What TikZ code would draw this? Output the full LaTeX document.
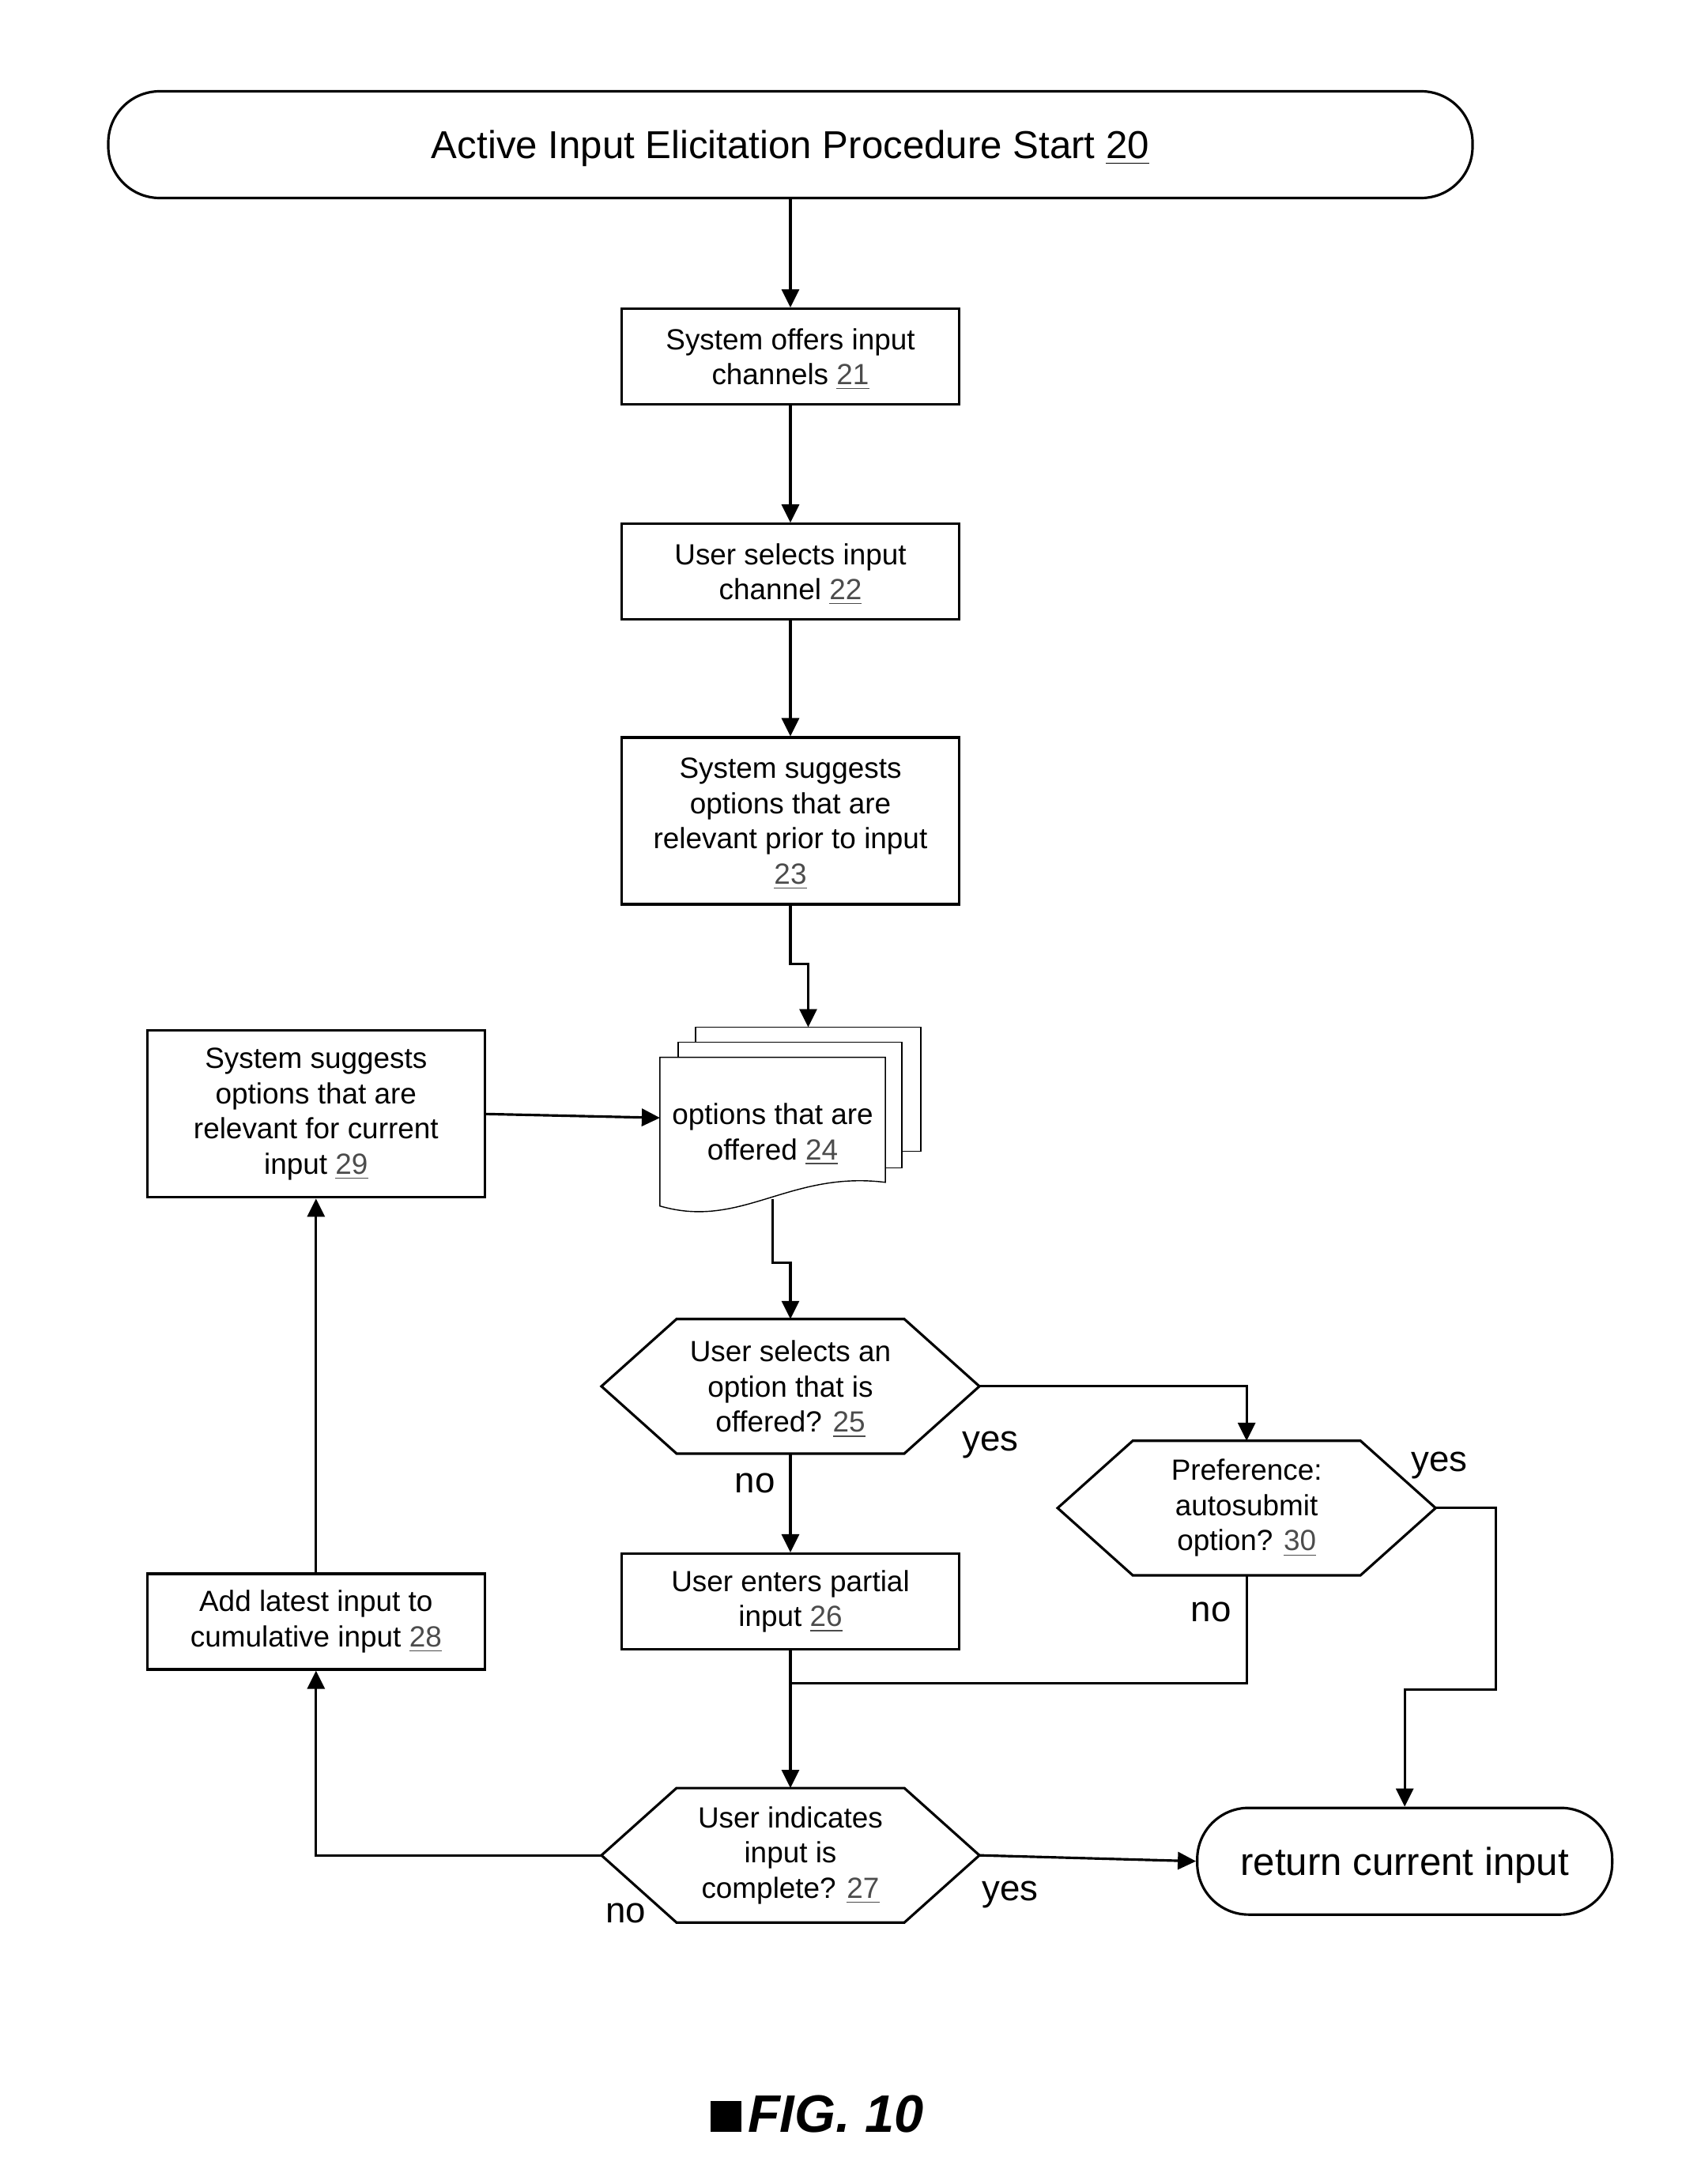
\documentclass[tikz,border=0pt]{standalone}
\usepackage{fontspec}
\setmainfont{Liberation Sans}
\usepackage{tikz}
\usepackage{xcolor}
\usetikzlibrary{positioning, arrows.meta, backgrounds}

\newcommand{\refnum}[1]{\raisebox{0pt}[\height][0pt]{\textcolor{black!70}{\underline{#1}}}}

\begin{document}
\begin{tikzpicture}[node distance=1.48cm and 2cm,
            line width=0.9pt,
            >={Triangle[length=2.3mm,width=2.2mm]},
            stepbox/.style={draw, rectangle, minimum width=4.27cm, minimum height=1.21cm, inner sep=0.1cm, align=center, font=\fontsize{10.5}{12.7}\selectfont},
            terminal/.style={draw, rectangle, rounded corners=6.5mm, minimum height=1.35cm, text depth=0pt, align=center, font=\fontsize{14}{16.8}\selectfont},
            decision/.style={rectangle, minimum width=4.75cm, minimum height=1.67cm, inner sep=0pt, align=center, font=\fontsize{10.5}{12.7}\selectfont},
            lbl/.style={inner sep=0pt, font=\fontsize{13}{15.6}\selectfont}]
    \useasboundingbox (0,0) rectangle (21.27,-27.63);

    % Nodes
    \node[terminal, minimum width=17.26cm] (start) at (10.00,-1.83) {Active Input Elicitation Procedure Start \raisebox{0pt}[\height][0pt]{\underline{20}}};
    \node[stepbox, below=1.37cm of start] (offer) {System offers input\\channels \refnum{21}};
    \node[stepbox, below=of offer] (choose) {User selects input\\channel \refnum{22}};
    \node[stepbox, minimum height=2.11cm, below=1.46cm of choose] (suggest) {System suggests\\options that are\\relevant prior to input\\\refnum{23}};
    \node[rectangle, minimum width=2.82cm, minimum height=1.85cm, inner sep=0pt, align=center, font=\fontsize{10.5}{12.7}\selectfont,
          below=1.92cm of suggest, xshift=-2.25mm] (offered) {options that are\\offered \refnum{24}};
    \node[decision, below=1.43cm of offered, xshift=2.25mm] (select) {User selects an\\option that is\\offered? \refnum{25}};
    \node[decision, right=0.99cm of select, yshift=-1.54cm] (autosub) {Preference:\\autosubmit\\option? \refnum{30}};
    \node[stepbox, below=1.25cm of select] (partial) {User enters partial\\input \refnum{26}};
    \node[decision, below=1.74cm of partial] (complete) {User indicates\\input is\\complete? \refnum{27}};
    \node[terminal, minimum width=5.25cm, right=2.74cm of complete, yshift=-0.75mm] (result) {return current input};
    \node[stepbox, left=1.70cm of partial, yshift=-2.55mm] (addin) {Add latest input to\\cumulative input \refnum{28}};
    \node[stepbox, minimum height=2.11cm, above=4.73cm of addin] (suggestcur) {System suggests\\options that are\\relevant for current\\input \refnum{29}};

    \coordinate (stacktop) at ([xshift=4.5mm,yshift=3.8mm]offered.north);
    \coordinate (offbot) at ([yshift=0.9mm]offered.south);
    \coordinate (merge) at ([yshift=-4.1mm]partial.south);

    % Shapes
    \foreach \h in {select, autosub, complete}
        \draw (\h.west) -- ([xshift=9.5mm]\h.north west) -- ([xshift=-9.5mm]\h.north east) -- (\h.east)
            -- ([xshift=-9.5mm]\h.south east) -- ([xshift=9.5mm]\h.south west) -- cycle;
    \begin{scope}[on background layer]
        \draw[fill=white] ([xshift=4.5mm,yshift=3.8mm]offered.north west) rectangle ([xshift=4.5mm,yshift=6.9mm]offered.south east);
        \draw[fill=white] ([xshift=2.3mm,yshift=1.9mm]offered.north west) rectangle ([xshift=2.1mm,yshift=4.8mm]offered.south east);
        \draw[fill=white] (offered.north west) -- (offered.north east) -- ([yshift=3mm]offered.south east)
            .. controls ([xshift=1.63cm,yshift=4.5mm]offered.south west) and ([xshift=1.03cm,yshift=-3mm]offered.south west) .. (offered.south west) -- cycle;
    \end{scope}

    % Edges
    \draw[->] (start) -- (offer);
    \draw[->] (offer) -- (choose);
    \draw[->] (choose) -- (suggest);
    \draw[->] (suggest.south) -- ++(0,-0.74) -| (stacktop);
    \draw[->] (offbot) -- ++(0,-0.81) -| (select.north);
    \draw[->] (select.east) -| (autosub.north);
    \draw[->] (select.south) -- (partial.north);
    \draw[->] (partial.south) -- (complete.north);
    \draw (autosub.south) |- (merge);
    \draw[->] (autosub.east) -- ++(0.76,0) -- ++(0,-2.30) -| (result.north);
    \draw[->] (complete.east) -- (result.west);
    \draw[->] (complete.west) -| (addin.south);
    \draw[->] (addin.north) -- (suggestcur.south);
    \draw[->] (suggestcur.east) -- ([yshift=1.75mm]offered.west);

    % Labels
    \node[lbl] (selyes) at ([xshift=1.4mm,yshift=-7.4mm]select.east) {yes};
    \node[lbl] (selno) at ([xshift=-4.5mm,yshift=-3.8mm]select.south) {no};
    \node[lbl] (autoyes) at ([xshift=0.5mm,yshift=5.4mm]autosub.east) {yes};
    \node[lbl] (autono) at ([xshift=-4.5mm,yshift=-4.7mm]autosub.south) {no};
    \node[lbl] (compyes) at ([xshift=3.9mm,yshift=-5.0mm]complete.east) {yes};
    \node[lbl] (compno) at ([xshift=3.1mm,yshift=-7.3mm]complete.west) {no};

    \node[anchor=base, inner sep=0pt, font=\fontsize{19}{22.8}\selectfont] (fig) at (10.34,-26.97) {\rule{0.39cm}{0.39cm}\kern0.8mm\textbf{\textit{FIG. 10}}};
\end{tikzpicture}
\end{document}
